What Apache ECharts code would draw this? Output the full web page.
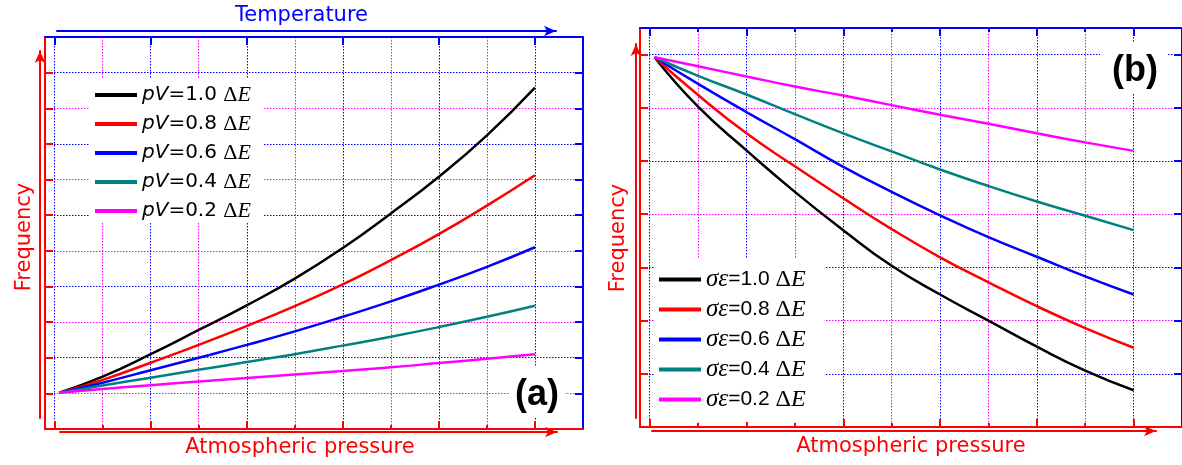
<!DOCTYPE html>
<html>
<head>
<meta charset="utf-8">
<script src="https://cdn.jsdelivr.net/npm/echarts@6/dist/echarts.min.js"></script>
<style>html,body{margin:0;padding:0;background:#fff}#c{width:1182px;height:465px}</style>
</head>
<body>
<div id="c"></div>
<script>
// ---------- data ----------
const xs = [0.1, 1, 2, 3, 4, 5, 6, 7, 8, 9, 10];
// panel (a): Frequency vs Atmospheric pressure for several pV
const pvLabels = ['1.0', '0.8', '0.6', '0.4', '0.2'];
const pv10 = [1.02, 1.47, 2.10, 2.78, 3.47, 4.22, 5.08, 6.05, 7.08, 8.24, 9.58];
const pv08 = [1.02, 1.38, 1.86, 2.36, 2.89, 3.45, 4.06, 4.74, 5.47, 6.27, 7.12];
const pv06 = [1.02, 1.30, 1.65, 2.00, 2.36, 2.74, 3.15, 3.58, 4.05, 4.55, 5.10];
const pv04 = [1.02, 1.22, 1.44, 1.66, 1.88, 2.10, 2.34, 2.59, 2.86, 3.15, 3.46];
const pv02 = [1.02, 1.12, 1.23, 1.33, 1.43, 1.53, 1.63, 1.73, 1.85, 1.97, 2.10];
// panel (b): Frequency vs Atmospheric pressure for several σε
const seLabels = ['1.0', '0.8', '0.6', '0.4', '0.2'];
const se10 = [6.95, 6.02, 5.20, 4.42, 3.70, 3.03, 2.49, 2.00, 1.51, 1.06, 0.69];
const se08 = [6.95, 6.24, 5.52, 4.90, 4.30, 3.72, 3.19, 2.72, 2.27, 1.86, 1.49];
const se06 = [6.95, 6.45, 5.92, 5.41, 4.89, 4.42, 3.98, 3.57, 3.20, 2.83, 2.49];
const se04 = [6.95, 6.60, 6.25, 5.88, 5.52, 5.18, 4.84, 4.53, 4.24, 3.97, 3.70];
const se02 = [6.95, 6.78, 6.59, 6.40, 6.23, 6.05, 5.87, 5.70, 5.52, 5.35, 5.19];
// tick positions
const xMajorTicks = [0, 2, 4, 6, 8, 10];
const xMinorTicks = [1, 3, 5, 7, 9];
const aYTicks = [1, 2, 3, 4, 5, 6, 7, 8, 9, 10];
const aYMajor = [2, 4, 6, 8, 10];
const aYMinor = [1, 3, 5, 7, 9];
const bYTicks = [1, 2, 3, 4, 5, 6, 7];
const bYMajor = [1, 3, 5, 7];
const bYMinor = [2, 4, 6];

// ---------- styling helpers ----------
const RED = '#ff0000', BLUE = '#0000ff', MAG = '#ff00ff';
const lineColors = ['#000000', '#ff0000', '#0000ff', '#008080', '#ff00ff'];
const SANS = 'DejaVu Sans';
const DOT = [1.5, 1.5];

function base(gridIndex, position, min, max) {
  return {
    type: 'value', gridIndex: gridIndex, position: position, min: min, max: max,
    axisLabel: { show: false },
    axisLine: { show: false, onZero: false },
    axisTick: { show: false },
    splitLine: { show: false }
  };
}
function frame(ax, color) {
  ax.axisLine = { show: true, onZero: false, lineStyle: { color: color, width: 2 } };
  return ax;
}
function ticks(ax, color, values, len) {
  ax.axisTick = { show: true, inside: true, length: len, customValues: values, lineStyle: { color: color, width: 2 } };
  return ax;
}
function split(ax, color, values) {
  ax.axisTick = { show: false, customValues: values };
  ax.splitLine = { show: true, lineStyle: { color: color, width: 1, type: DOT } };
  return ax;
}
// axis whose ticks and split lines share the same custom values
function tickSplit(ax, tickColor, values, len, splitColor) {
  ticks(ax, tickColor, values, len);
  if (splitColor) ax.splitLine = { show: true, lineStyle: { color: splitColor, width: 1, type: DOT } };
  return ax;
}
function arrow(ax, color, name, gap, rotate, pad) {
  ax.axisLine = { show: true, onZero: false, symbol: ['none', 'arrow'], symbolSize: [8, 12],
                  lineStyle: { color: color, width: 2 } };
  ax.name = name;
  ax.nameLocation = 'middle';
  ax.nameGap = gap;
  if (rotate != null) ax.nameRotate = rotate;
  ax.nameTextStyle = { color: color, fontSize: 21, fontFamily: SANS, padding: pad };
  return ax;
}

const xAxes = [
  // grid 0 : panel (a)
  tickSplit(frame(base(0, 'bottom', -0.2, 11), RED), RED, xMajorTicks, 8, BLUE),
  tickSplit(base(0, 'bottom', -0.2, 11), RED, xMinorTicks, 4, MAG),
  ticks(frame(base(0, 'top', -0.2, 11), BLUE), BLUE, xMajorTicks, 8),
  // grid 1 : panel (b)
  tickSplit(frame(base(1, 'bottom', -0.2, 11), RED), RED, xMajorTicks, 8, BLUE),
  tickSplit(base(1, 'bottom', -0.2, 11), RED, xMinorTicks, 4, MAG),
  ticks(frame(base(1, 'top', -0.2, 11), BLUE), BLUE, xMajorTicks, 8),
  ticks(base(1, 'top', -0.2, 11), BLUE, xMinorTicks, 4),
  // arrow grids
  arrow(base(2, 'bottom', 0, 1), RED, 'Atmospheric pressure', 5, null, [0, 17, 0, 0]),
  arrow(base(3, 'top', 0, 1), BLUE, 'Temperature', 5, null, [0, 10, 0, 0]),
  base(4, 'bottom', 0, 1),
  base(5, 'bottom', 0, 1),
  arrow(base(6, 'bottom', 0, 1), RED, 'Atmospheric pressure', 5, null, [0, 0, 0, 14])
];

const yAxes = [
  // grid 0
  ticks(frame(base(0, 'left', 0, 11), RED), RED, aYTicks, 8),
  ticks(frame(base(0, 'right', 0, 11), BLUE), BLUE, aYTicks, 8),
  split(base(0, 'left', 0, 11), BLUE, aYMajor),
  split(base(0, 'left', 0, 11), MAG, aYMinor),
  // grid 1
  ticks(frame(base(1, 'left', 0, 7.5), RED), RED, bYTicks, 8),
  ticks(frame(base(1, 'right', 0, 7.5), BLUE), BLUE, bYTicks, 8),
  split(base(1, 'left', 0, 7.5), BLUE, bYMajor),
  split(base(1, 'left', 0, 7.5), MAG, bYMinor),
  // arrow grids
  base(2, 'left', 0, 1),
  base(3, 'left', 0, 1),
  arrow(base(4, 'left', 0, 1), RED, 'Frequency', 5, 90, [0, 5, 0, 0]),
  arrow(base(5, 'left', 0, 1), RED, 'Frequency', 7, 90, [0, 14, 0, 0]),
  base(6, 'left', 0, 1)
];

const grids = [
  { left: 45, top: 37, width: 538, height: 392 },     // panel (a)
  { left: 640, top: 28, width: 542, height: 399 },    // panel (b)
  { left: 60, top: 400, width: 497, height: 32 },     // (a) bottom arrow
  { left: 57, top: 31, width: 499, height: 10 },      // (a) top arrow
  { left: 40, top: 51, width: 10, height: 367 },      // (a) left arrow
  { left: 636, top: 44, width: 10, height: 374 },     // (b) left arrow
  { left: 652, top: 400, width: 504, height: 31 }     // (b) bottom arrow
];

function pairs(ys) { return xs.map((x, i) => [x, ys[i]]); }
const aSets = [pv10, pv08, pv06, pv04, pv02];
const bSets = [se10, se08, se06, se04, se02];
const aNames = pvLabels.map(v => 'pV=' + v + ' ΔE');
const bNames = seLabels.map(v => 'σε=' + v + ' ΔE');

const series = [];
aSets.forEach((ys, i) => series.push({
  name: aNames[i], type: 'line', xAxisIndex: 0, yAxisIndex: 0, data: pairs(ys),
  smooth: 0.5, symbol: 'none', z: 3,
  itemStyle: { color: lineColors[i] }, lineStyle: { color: lineColors[i], width: 2.5 }
}));
bSets.forEach((ys, i) => series.push({
  name: bNames[i], type: 'line', xAxisIndex: 3, yAxisIndex: 4, data: pairs(ys),
  smooth: 0.5, symbol: 'none', z: 3,
  itemStyle: { color: lineColors[i] }, lineStyle: { color: lineColors[i], width: 2.5 }
}));

const option = {
  animation: false,
  backgroundColor: '#ffffff',
  grid: grids,
  xAxis: xAxes,
  yAxis: yAxes,
  title: [
    { text: '(a)', left: 509, top: 367, padding: [10, 6, 4, 6], backgroundColor: '#ffffff',
      textStyle: { fontFamily: 'Liberation Sans', fontWeight: 'bold', fontSize: 36, color: '#000' } },
    { text: '(b)', left: 1100, top: 42, padding: [11, 10, 5, 12], backgroundColor: '#ffffff',
      textStyle: { fontFamily: 'Liberation Sans', fontWeight: 'bold', fontSize: 36, color: '#000' } }
  ],
  legend: [
    { data: aNames, orient: 'vertical', left: 90, top: 78, padding: [6, 13, 1, 5],
      backgroundColor: '#ffffff', icon: 'rect', itemWidth: 42, itemHeight: 4, itemGap: 7,
      selectedMode: false, itemStyle: { borderWidth: 0 },
      formatter: function (name) {
        const i = aNames.indexOf(name);
        return '{i|pV}{n|=' + pvLabels[i] + ' }{d|Δ}{e|E}';
      },
      textStyle: {
        color: '#000',
        rich: {
          i: { fontFamily: SANS, fontStyle: 'italic', fontSize: 20, lineHeight: 22, color: '#000' },
          n: { fontFamily: SANS, fontSize: 20, lineHeight: 22, color: '#000' },
          d: { fontFamily: 'Liberation Serif', fontSize: 22, lineHeight: 22, color: '#000' },
          e: { fontFamily: 'Liberation Serif', fontStyle: 'italic', fontSize: 22, lineHeight: 22, color: '#000' }
        }
      }
    },
    { data: bNames, orient: 'vertical', left: 654, top: 258, padding: [9, 19, 10, 5],
      backgroundColor: '#ffffff', icon: 'rect', itemWidth: 42, itemHeight: 4, itemGap: 5,
      selectedMode: false, itemStyle: { borderWidth: 0 },
      formatter: function (name) {
        const i = bNames.indexOf(name);
        return '{g|σε}{n|=' + seLabels[i] + ' }{d|Δ}{e|E}';
      },
      textStyle: {
        color: '#000',
        rich: {
          g: { fontFamily: 'Liberation Serif', fontStyle: 'italic', fontSize: 25, lineHeight: 25, color: '#000' },
          n: { fontFamily: 'Liberation Sans', fontSize: 21, lineHeight: 25, color: '#000' },
          d: { fontFamily: 'Liberation Serif', fontSize: 24, lineHeight: 25, color: '#000' },
          e: { fontFamily: 'Liberation Serif', fontStyle: 'italic', fontSize: 24, lineHeight: 25, color: '#000' }
        }
      }
    }
  ],
  series: series
};

const chart = echarts.init(document.getElementById('c'), null, { renderer: 'canvas' });
chart.setOption(option);
</script>
</body>
</html>
